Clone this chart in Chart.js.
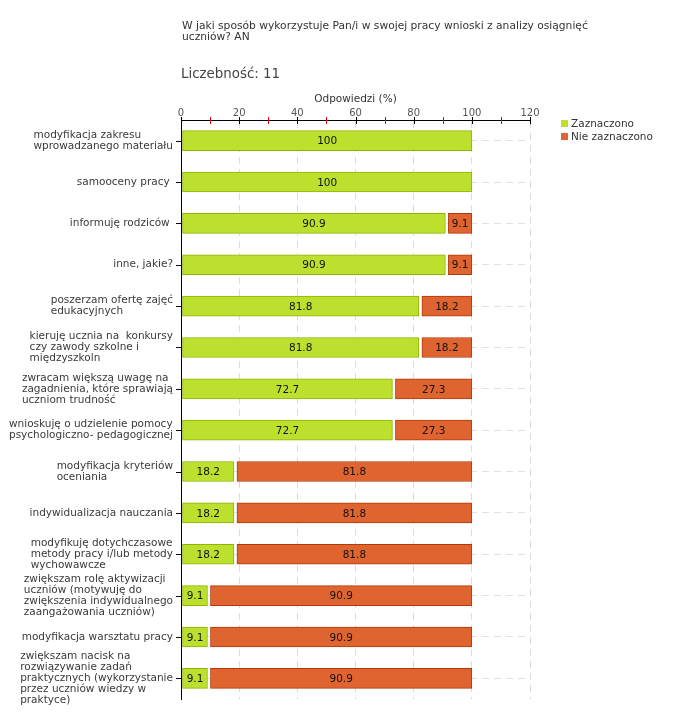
<!DOCTYPE html>
<html><head><meta charset="utf-8">
<script src="https://cdn.jsdelivr.net/npm/chart.js@4/dist/chart.umd.min.js"></script>
<style>html,body{margin:0;padding:0;background:#fff}</style>
</head><body>
<canvas id="c" width="680" height="720"></canvas>
<script>
const titleLines = ['W jaki sposób wykorzystuje Pan/i w swojej pracy wnioski z analizy osiągnięć', 'uczniów? AN'];
const countLabel = 'Liczebność: 11';
const axisTitle = 'Odpowiedzi (%)';
const seriesNames = ['Zaznaczono', 'Nie zaznaczono'];
const categories = [
  ['modyfikacja zakresu', 'wprowadzanego materiału'],
  ['samooceny pracy '],
  ['informuję rodziców '],
  ['inne, jakie?'],
  ['poszerzam ofertę zajęć', 'edukacyjnych'],
  ['kieruję ucznia na  konkursy', 'czy zawody szkolne i', 'międzyszkoln'],
  ['zwracam większą uwagę na', 'zagadnienia, które sprawiają', 'uczniom trudność'],
  ['wnioskuję o udzielenie pomocy', 'psychologiczno- pedagogicznej'],
  ['modyfikacja kryteriów', 'oceniania'],
  ['indywidualizacja nauczania'],
  ['modyfikuję dotychczasowe', 'metody pracy i/lub metody', 'wychowawcze'],
  ['zwiększam rolę aktywizacji', 'uczniów (motywuję do', 'zwiększenia indywidualnego', 'zaangażowania uczniów)'],
  ['modyfikacja warsztatu pracy'],
  ['zwiększam nacisk na', 'rozwiązywanie zadań', 'praktycznych (wykorzystanie', 'przez uczniów wiedzy w', 'praktyce)']
];
const zaznaczono = [100, 100, 90.9, 90.9, 81.8, 81.8, 72.7, 72.7, 18.2, 18.2, 18.2, 9.1, 9.1, 9.1];
const nieZaznaczono = [0, 0, 9.1, 9.1, 18.2, 18.2, 27.3, 27.3, 81.8, 81.8, 81.8, 90.9, 90.9, 90.9];
const xMin = 0, xMax = 120, xStep = 20, xMinorStep = 10;

const FONT = '"DejaVu Sans", Verdana, sans-serif';
const fills = ['#bde02f', '#e06430'];
const borders = ['#8db500', '#b13a0a'];

const customPlugin = {
  id: 'custom',
  afterDatasetsUpdate(chart) {
    chart.data.datasets.forEach((ds, di) => {
      const meta = chart.getDatasetMeta(di);
      meta.data.forEach((el, i) => {
        if (!ds.data[i]) return;
        el.base += (di === 0 ? 1 : 3);
      });
    });
  },
  afterDatasetsDraw(chart) {
    const ctx = chart.ctx;
    ctx.save();
    ctx.font = '10.5px ' + FONT;
    ctx.fillStyle = '#111';
    ctx.textAlign = 'center';
    ctx.textBaseline = 'middle';
    chart.data.datasets.forEach((ds, di) => {
      const meta = chart.getDatasetMeta(di);
      meta.data.forEach((el, i) => {
        const v = ds.data[i];
        if (!v) return;
        ctx.fillText(String(v), (el.x + el.base) / 2, el.y + 1);
      });
    });
    ctx.restore();
  },
  afterDraw(chart) {
    const ctx = chart.ctx;
    const xs = chart.scales.x, ys = chart.scales.y;
    const top = chart.chartArea.top, left = chart.chartArea.left;
    ctx.save();
    // x-axis tick marks
    for (let v = xMin; v <= xMax; v += xMinorStep) {
      const px = Math.round(xs.getPixelForValue(v)) + 0.5;
      ctx.strokeStyle = (v % xStep === 0) ? '#000' : '#e00000';
      ctx.lineWidth = 1;
      ctx.beginPath();
      ctx.moveTo(px, top - 3);
      ctx.lineTo(px, top + 4);
      ctx.stroke();
    }
    // y-axis tick marks and labels
    ctx.font = '10.5px ' + FONT;
    ctx.fillStyle = '#3a3a3a';
    ctx.textAlign = 'left';
    ctx.textBaseline = 'middle';
    const lh = 11;
    categories.forEach((lines, i) => {
      const py = ys.getPixelForValue(i);
      ctx.strokeStyle = '#000';
      ctx.beginPath();
      ctx.moveTo(left - 5, Math.round(py) + 0.5);
      ctx.lineTo(left, Math.round(py) + 0.5);
      ctx.stroke();
      const w = Math.max(...lines.map(l => ctx.measureText(l).width));
      const x0 = left - 8 - w;
      const y0 = py - (lines.length - 1) * lh / 2;
      lines.forEach((l, k) => ctx.fillText(l, x0, y0 + k * lh));
    });
    // titles
    ctx.fillStyle = '#333';
    ctx.font = '10.7px ' + FONT;
    ctx.fillText(titleLines[0], 182, 26);
    ctx.fillText(titleLines[1], 182, 37);
    ctx.fillStyle = '#444';
    ctx.font = '13.4px ' + FONT;
    ctx.fillText(countLabel, 181, 75);
    // legend
    ctx.font = '10.5px ' + FONT;
    seriesNames.forEach((n, i) => {
      const ly = 123 + i * 13;
      ctx.fillStyle = fills[i];
      ctx.fillRect(561, ly - 3, 7, 7);
      ctx.fillStyle = '#333';
      ctx.fillText(n, 571, ly + 1);
    });
    ctx.restore();
  }
};

new Chart(document.getElementById('c'), {
  type: 'bar',
  data: {
    labels: categories,
    datasets: [
      { label: seriesNames[0], data: zaznaczono, backgroundColor: fills[0], borderColor: borders[0], borderWidth: 1, borderSkipped: false, barThickness: 20 },
      { label: seriesNames[1], data: nieZaznaczono, backgroundColor: fills[1], borderColor: borders[1], borderWidth: 1, borderSkipped: false, barThickness: 20 }
    ]
  },
  options: {
    indexAxis: 'y',
    responsive: false,
    animation: false,
    layout: { padding: { top: 92, left: 0, right: 150, bottom: 21 } },
    plugins: { legend: { display: false }, tooltip: { enabled: false }, title: { display: false } },
    scales: {
      x: {
        type: 'linear', position: 'top', stacked: true, min: xMin, max: xMax,
        ticks: { stepSize: xStep, font: { family: FONT, size: 10 }, color: '#555', padding: 1 },
        grid: { color: '#dcdcdc', drawTicks: false },
        border: { display: true, color: '#000', width: 1, dash: [7, 5] },
        title: { display: true, text: axisTitle, font: { family: FONT, size: 10.5 }, color: '#333', padding: { top: 1, bottom: 0 } },
        afterFit(s) { s.height = 28; }
      },
      y: {
        type: 'category', stacked: true,
        ticks: { display: false },
        grid: { offset: false, color: '#e2e2e2', drawTicks: false },
        border: { display: true, color: '#000', width: 1, dash: [7, 5] },
        afterFit(s) { s.width = 181; }
      }
    }
  },
  plugins: [customPlugin]
});
</script>
</body></html>
